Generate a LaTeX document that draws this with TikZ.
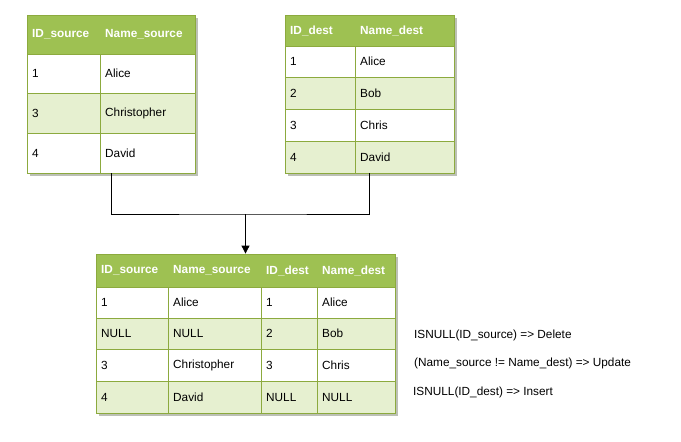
\documentclass[tikz,border=0pt]{standalone}
\usepackage{fontspec}
\setmainfont{Liberation Sans}
\usetikzlibrary{arrows.meta}

\definecolor{hdrgreen}{RGB}{158,193,82}
\definecolor{rowgreen}{RGB}{230,240,208}
\definecolor{edgegreen}{RGB}{140,170,62}
\definecolor{shadowgray}{RGB}{188,192,182}
\newcommand{\tblfont}{\fontsize{11.8}{14}\selectfont}

\begin{document}
\begin{tikzpicture}[x=1pt,y=-1pt,
    hdr/.style={anchor=west,inner sep=0pt,text=white,font=\tblfont\bfseries},
    cell/.style={anchor=west,inner sep=0pt,font=\tblfont},
    tbl/.style={draw=edgegreen,line width=0.8pt,inner sep=0pt},
    grid/.style={draw=edgegreen,line width=0.8pt},
    link/.style={draw=black,line width=0.8pt}]
    \useasboundingbox (0,0) rectangle (681,442);

    % source table
    \fill[shadowgray](30,18) rectangle (198,176);
    \fill[white](27,15) rectangle (195,173);
    \fill[hdrgreen](27,15) rectangle (195,54);
    \fill[rowgreen](27,93) rectangle (195,133);
    \foreach \y in {54,93,133} \draw[grid](27,\y)--(195,\y);
    \draw[grid](100,54)--(100,173);
    \node[tbl,minimum width=168pt,minimum height=158pt](src)at(111,94){};
    \node[hdr](srcid)at(32,34.5){ID\_source};
    \node[hdr](srcname)at(105,34.5){Name\_source};
    \foreach \y/\i/\n [count=\k] in {73.5/1/Alice,113/3/Christopher,153/4/David}{
        \node[cell](srcid\k)at(32,\y){\i};
        \node[cell](srcname\k)at(105,\y){\n};
    }

    % dest table
    \fill[shadowgray](288,18) rectangle (457,176);
    \fill[white](285,15) rectangle (454,173);
    \fill[hdrgreen](285,15) rectangle (454,46);
    \fill[rowgreen](285,77) rectangle (454,109);
    \fill[rowgreen](285,141) rectangle (454,173);
    \foreach \y in {46,77,109,141} \draw[grid](285,\y)--(454,\y);
    \draw[grid](355,46)--(355,173);
    \node[tbl,minimum width=169pt,minimum height=158pt](dst)at(369.5,94){};
    \node[hdr](dstid)at(290,30.5){ID\_dest};
    \node[hdr](dstname)at(360,30.5){Name\_dest};
    \foreach \y/\i/\n [count=\k] in {61.5/1/Alice,93/2/Bob,125/3/Chris,157/4/David}{
        \node[cell](dstid\k)at(290,\y){\i};
        \node[cell](dstname\k)at(360,\y){\n};
    }

    % joined table
    \fill[shadowgray](99,257) rectangle (398,416);
    \fill[white](96,254) rectangle (395,413);
    \fill[hdrgreen](96,254) rectangle (395,287);
    \fill[rowgreen](96,318) rectangle (395,349);
    \fill[rowgreen](96,381) rectangle (395,413);
    \foreach \y in {287,318,349,381} \draw[grid](96,\y)--(395,\y);
    \foreach \x in {168,261,317} \draw[grid](\x,287)--(\x,413);
    \node[tbl,minimum width=299pt,minimum height=159pt](res)at(245.5,333.5){};
    \node[hdr](resa)at(101,270.5){ID\_source};
    \node[hdr](resb)at(173,270.5){Name\_source};
    \node[hdr](resc)at(266,270.5){ID\_dest};
    \node[hdr](resd)at(322,270.5){Name\_dest};
    \foreach \y/\a/\b/\c/\d [count=\k] in {302.5/1/Alice/1/Alice,
        333.5/NULL/NULL/2/Bob,365/3/Christopher/3/Chris,397/4/David/NULL/NULL}{
        \node[cell](resa\k)at(101,\y){\a};
        \node[cell](resb\k)at(173,\y){\b};
        \node[cell](resc\k)at(266,\y){\c};
        \node[cell](resd\k)at(322,\y){\d};
    }

    % rules
    \node[cell](rule1)at(414,335){ISNULL(ID\_source) => Delete};
    \node[cell](rule2)at(414,363){(Name\_source != Name\_dest) => Update};
    \node[cell](rule3)at(413,392){ISNULL(ID\_dest) => Insert};

    % connectors
    \coordinate(join)at(245.5,214);
    \draw[link](src.south)|-(join)-|(dst.south);
    \draw[link,-{Triangle[length=8pt,width=8pt]}](join)--(res.north);
\end{tikzpicture}
\end{document}
